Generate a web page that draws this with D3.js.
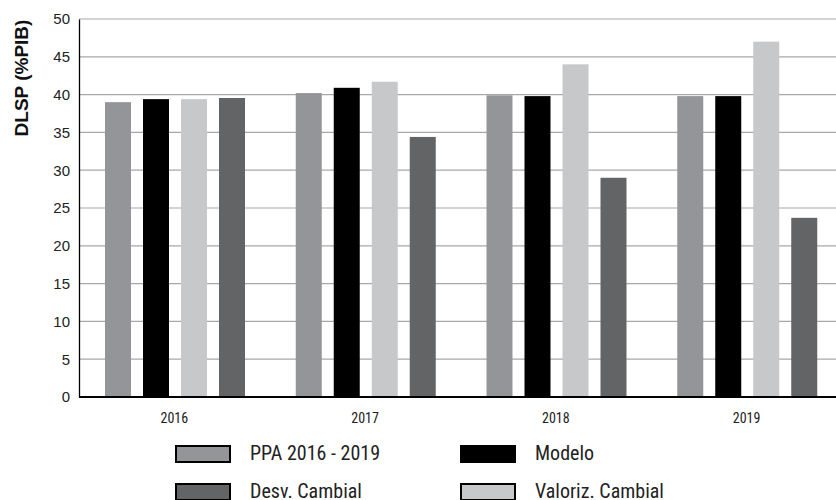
<!DOCTYPE html>
<html><head><meta charset="utf-8">
<script src="https://cdn.jsdelivr.net/npm/d3@7"></script>
<style>body{margin:0;background:#fff}svg{display:block}</style>
</head><body><svg id="c" width="836" height="500"></svg>
<script>
const years = ["2016","2017","2018","2019"];
const seriesNames = ["PPA 2016 - 2019","Modelo","Valoriz. Cambial","Desv. Cambial"];
const ppa = [39.0, 40.2, 39.9, 39.8];
const modelo = [39.4, 40.9, 39.8, 39.8];
const valoriz = [39.4, 41.7, 44.0, 47.0];
const desv = [39.55, 34.4, 29.0, 23.7];
const yTicks = [0,5,10,15,20,25,30,35,40,45,50];
const colors = ["#939598","#000000","#c7c8ca","#636466"];

(function(){
const values = [ppa, modelo, valoriz, desv];
const svg = d3.select("#c");
const mLeft = 79, mRight = 842, mTop = 19, mBottom = 397;
const condensed = "'Liberation Sans Narrow','Roboto Condensed','Roboto',sans-serif";

const x0 = d3.scaleBand().domain(years).range([mLeft, mRight]).paddingInner(0).paddingOuter(0);
const x1 = d3.scaleBand().domain(d3.range(4)).range([26, 166]).paddingInner(12/38).paddingOuter(0);
const y = d3.scaleLinear().domain([0,50]).range([mBottom, mTop]);

// gridlines
svg.append("g").selectAll("line").data(yTicks.filter(d=>d>0)).join("line")
  .attr("x1", mLeft).attr("x2", 836).attr("y1", d=>y(d)).attr("y2", d=>y(d))
  .attr("stroke", "#a8a8a8").attr("stroke-width", 1.2);

// bars
const g = svg.append("g").selectAll("g").data(years).join("g")
  .attr("transform", d=>`translate(${x0(d)},0)`);
g.selectAll("rect").data((d,i)=>values.map((s,j)=>({j, v:s[i]}))).join("rect")
  .attr("x", d=>x1(d.j)).attr("width", x1.bandwidth())
  .attr("y", d=>y(d.v)).attr("height", d=>mBottom - y(d.v))
  .attr("fill", d=>colors[d.j]);

// y axis
const ya = svg.append("g").attr("transform", `translate(${mLeft},0)`)
  .call(d3.axisLeft(y).tickValues(yTicks).tickSize(0).tickPadding(9));
ya.select(".domain").attr("stroke", "#000").attr("stroke-width", 1.3);
ya.selectAll("text").attr("font-family", "'Liberation Sans',Arial,sans-serif").attr("font-size", 15).attr("fill", "#222");

// x axis
const xa = svg.append("g").attr("transform", `translate(0,${mBottom})`)
  .call(d3.axisBottom(x0).tickSize(0).tickPadding(16));
xa.select(".domain").remove();
svg.append("line").attr("x1", mLeft).attr("x2", 836).attr("y1", mBottom).attr("y2", mBottom)
  .attr("stroke", "#000").attr("stroke-width", 2);
xa.selectAll("text").attr("font-family", condensed).attr("font-size", 14).attr("fill", "#222");

// y title
svg.append("text").attr("transform", "translate(28,78) rotate(-90)")
  .attr("text-anchor", "middle").attr("font-family", "'Liberation Sans',Arial,sans-serif")
  .attr("font-weight", "bold").attr("font-size", 19).attr("fill", "#111").text("DLSP (%PIB)");

// legend
const legOrder = [0,1,3,2];
const legPos = [[176,446],[461,446],[176,484],[461,484]];
const lg = svg.append("g").selectAll("g").data(legOrder).join("g")
  .attr("transform", (d,i)=>`translate(${legPos[i][0]},${legPos[i][1]})`);
lg.append("rect").attr("width", 54).attr("height", 16)
  .attr("fill", d=>colors[d]).attr("stroke", "#000").attr("stroke-width", 2);
lg.append("text").attr("x", 74).attr("y", 14).attr("font-family", condensed)
  .attr("font-size", 20).attr("fill", "#222").text(d=>seriesNames[d]);
})();
</script></body></html>
